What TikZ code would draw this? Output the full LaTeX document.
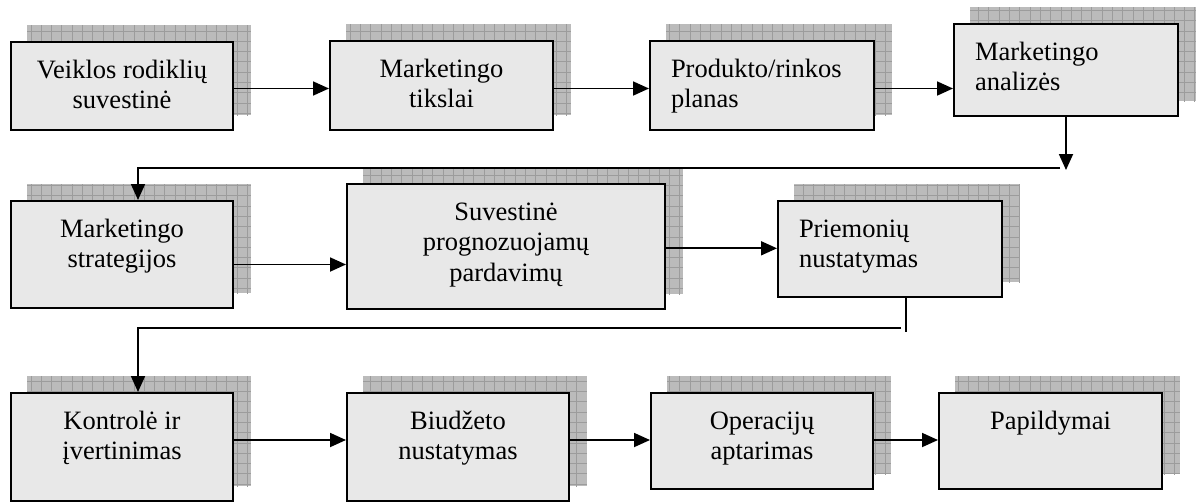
\documentclass[tikz,border=0pt]{standalone}
\usepackage{fontspec}
\setmainfont{Liberation Serif}
\usetikzlibrary{arrows.meta,backgrounds}
\definecolor{boxgray}{HTML}{E8E8E8}
\definecolor{shadowgray}{HTML}{BBBBBB}
\definecolor{gridgray}{HTML}{9C9C9C}
\tikzset{
  boxnode/.style={draw=black, line width=2pt, fill=boxgray, inner sep=0pt,
    anchor=north west, font=\fontsize{26.5pt}{30.5pt}\selectfont},
  shadowbox/.style={fill=shadowgray,
    path picture={\draw[gridgray, line width=0.7pt]
      ([shift={(-3pt,-3pt)}]path picture bounding box.south west) grid[step=10.3pt]
      (path picture bounding box.north east);}},
  arr/.style={line width=1.8pt, -{Triangle[length=16pt,width=14pt]}},
  ln/.style={line width=1.8pt},
}
% name, x1, y1, x2, y2, alignment, text
\newcommand\mkbox[7]{%
  \node[boxnode] (#1) at (#2,#3)
    {\parbox[t][\dimexpr #5pt-#3pt\relax][t]{\dimexpr #4pt-#2pt\relax}{#6\rule{0pt}{36pt}#7}};
  \begin{scope}[on background layer]
    \path[shadowbox] ([shift={(17pt,16pt)}]#1.south west) rectangle ([shift={(17pt,16pt)}]#1.north east);
  \end{scope}
}
\newcommand\ctr{\centering}
\newcommand\lft{\raggedright\leftskip=21pt\relax}
\begin{document}
\begin{tikzpicture}[x=1pt,y=-1pt]
\useasboundingbox (0,0) rectangle (1200,501);
\begin{scope}[on background layer]
  \fill[white] (0,0) rectangle (1200,501);
\end{scope}
% row 1
\mkbox{b1}{10}{41}{232}{129}{\ctr}{Veiklos rodiklių\\suvestinė}
\mkbox{b2}{329}{40}{552}{129}{\ctr}{Marketingo\\tikslai}
\mkbox{b3}{649}{40}{873}{129}{\lft}{Produkto/rinkos\\planas}
\mkbox{b4}{953}{23}{1177}{115}{\lft}{Marketingo\\analizės}
% row 2
\mkbox{b5}{10}{200}{232}{307}{\ctr}{Marketingo\\strategijos}
\mkbox{b6}{346}{183}{664}{308}{\ctr}{Suvestinė\\prognozuojamų\\pardavimų}
\mkbox{b7}{777}{200}{1001}{296}{\lft}{Priemonių\\nustatymas}
% row 3
\mkbox{b9}{10}{392}{232}{500}{\ctr}{Kontrolė ir\\įvertinimas}
\mkbox{b10}{346}{392}{568}{500}{\ctr}{Biudžeto\\nustatymas}
\mkbox{b11}{650}{392}{872}{488}{\ctr}{Operacijų\\aptarimas}
\mkbox{b12}{938}{392}{1161}{488}{\ctr}{Papildymai}
% helper coordinates
\coordinate (r1) at (0,88.5);
\coordinate (d1) at (1066,170);
\coordinate (t1a) at (1060,168);
\coordinate (t1b) at (138,168);
\coordinate (r2a) at (0,264.5);
\coordinate (r2b) at (0,248.3);
\coordinate (d2) at (906,332);
\coordinate (t2a) at (901,328);
\coordinate (t2b) at (138,328);
\coordinate (r3) at (0,440);
% connectors
\draw[arr] (b1.east |- r1) -- (b2.west |- r1);
\draw[arr] (b2.east |- r1) -- (b3.west |- r1);
\draw[arr] (b3.east |- r1) -- (b4.west |- r1);
\draw[arr] (b4.south -| d1) -- (d1);
\draw[arr] (t1a) -- (t1b) -- (b5.north -| t1b);
\draw[arr] (b5.east |- r2a) -- (b6.west |- r2a);
\draw[arr] (b6.east |- r2b) -- (b7.west |- r2b);
\draw[ln] (b7.south -| d2) -- (d2);
\draw[arr] (t2a) -- (t2b) -- (b9.north -| t2b);
\draw[arr] (b9.east |- r3) -- (b10.west |- r3);
\draw[arr] (b10.east |- r3) -- (b11.west |- r3);
\draw[arr] (b11.east |- r3) -- (b12.west |- r3);
\end{tikzpicture}
\end{document}
